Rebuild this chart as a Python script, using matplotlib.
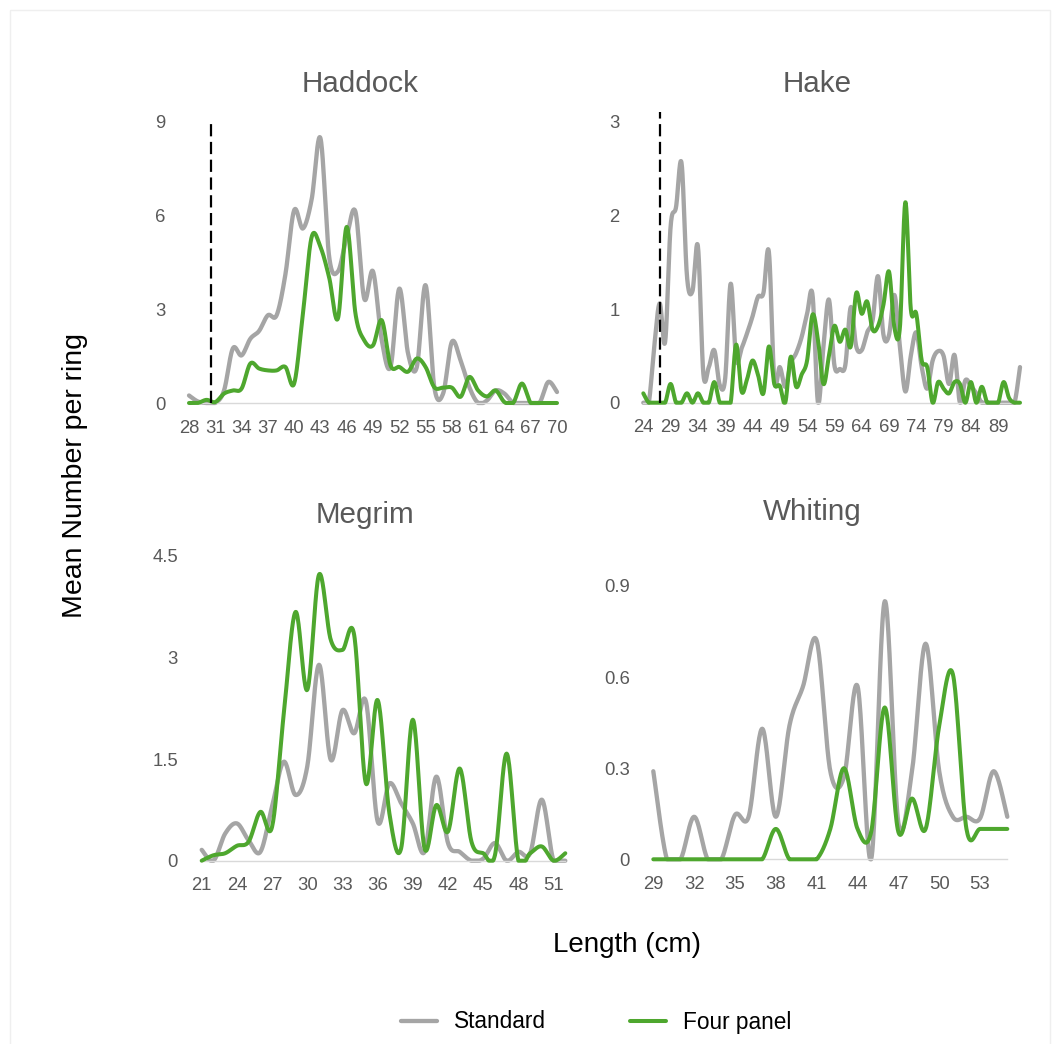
import numpy as np
import matplotlib
matplotlib.use("Agg")
import matplotlib.pyplot as plt
from matplotlib.patches import Rectangle
from matplotlib.ticker import FuncFormatter

plt.rcParams['font.family'] = ['Liberation Sans', 'DejaVu Sans']

# ---- data (mean number per ring by length class, cm) ----
haddock_len = list(range(28, 71))
haddock_std = [0.24, 0.05, 0, 0, 0.4, 1.74, 1.52, 2.05, 2.3, 2.8,
               2.8, 4.1, 6.15, 5.57, 6.5, 8.45, 4.66, 4.2, 5.3, 6.1,
               3.33, 4.2, 2.0, 1.15, 3.65, 1.58, 1.15, 3.76, 0.5, 0.3,
               1.95, 1.36, 0.5, 0, 0.08, 0.4, 0.3, 0, 0, 0,
               0, 0.67, 0.35]
haddock_four = [0, 0, 0.1, 0.03, 0.3, 0.4, 0.46, 1.26, 1.1, 1.04,
                1.04, 1.15, 0.62, 2.85, 5.3, 4.98, 4.0, 2.7, 5.62, 2.85,
                2.0, 1.84, 2.64, 1.2, 1.15, 1.0, 1.42, 1.15, 0.5, 0.49,
                0.49, 0.2, 0.83, 0.4, 0.21, 0.4, 0.03, 0, 0.62, 0,
                0, 0, 0]

hake_len = list(range(24, 94))
hake_std = [0, 0, 0.6, 1.06, 0.65, 1.88, 2.09, 2.56, 1.35, 1.19,
            1.67, 0.31, 0.38, 0.56, 0.19, 0.26, 1.27, 0.46, 0.58, 0.74,
            0.92, 1.13, 1.17, 1.61, 0.24, 0.38, 0.17, 0.42, 0.53, 0.7,
            0.95, 1.15, 0, 0.6, 1.1, 0.4, 0.36, 0.4, 1.02, 0.6,
            0.56, 0.75, 0.88, 1.35, 0.72, 0.72, 1.15, 0.6, 0.12, 0.5,
            0.75, 0.38, 0.15, 0.45, 0.55, 0.5, 0.2, 0.51, 0, 0.24,
            0.18, 0.1, 0, 0, 0, 0, 0, 0, 0, 0.38]
hake_four = [0.1, 0, 0, 0, 0, 0.2, 0, 0, 0.1, 0,
             0.1, 0, 0, 0.22, 0, 0, 0, 0.62, 0.12, 0.25,
             0.45, 0.3, 0.1, 0.6, 0.2, 0.18, 0, 0.49, 0.17, 0.3,
             0.45, 0.94, 0.67, 0.2, 0.5, 0.82, 0.65, 0.78, 0.6, 1.17,
             0.95, 1.08, 0.78, 0.82, 1.05, 1.4, 0.8, 0.8, 2.14, 1.0,
             0.95, 0.45, 0.38, 0, 0.22, 0.15, 0.1, 0.22, 0.2, 0,
             0.22, 0, 0.17, 0, 0, 0, 0.22, 0.05, 0, 0]

megrim_len = list(range(21, 53))
megrim_std = [0.16, 0, 0.4, 0.55, 0.3, 0.13, 0.8, 1.46, 0.97, 1.39,
              2.89, 1.49, 2.22, 1.88, 2.35, 0.58, 1.14, 0.85, 0.55, 0.13,
              1.24, 0.26, 0.13, 0, 0.03, 0.26, 0, 0.13, 0.11, 0.9,
              0, 0]
megrim_four = [0, 0.08, 0.11, 0.22, 0.28, 0.72, 0.5, 2.17, 3.67, 2.52,
               4.22, 3.26, 3.11, 3.33, 1.14, 2.37, 0.7, 0.18, 2.08, 0.18,
               0.82, 0.43, 1.36, 0.28, 0.11, 0.08, 1.58, 0, 0.11, 0.21,
               0, 0.11]

whiting_len = list(range(29, 56))
whiting_std = [0.29, 0, 0, 0.14, 0, 0, 0.146, 0.14, 0.43, 0.14,
               0.44, 0.57, 0.72, 0.29, 0.27, 0.57, 0, 0.85, 0.12, 0.29,
               0.71, 0.29, 0.14, 0.14, 0.135, 0.29, 0.14]
whiting_four = [0, 0, 0, 0, 0, 0, 0, 0, 0, 0.1,
                0, 0, 0, 0.1, 0.3, 0.1, 0.09, 0.5, 0.09, 0.2,
                0.1, 0.44, 0.61, 0.1, 0.1, 0.1, 0.1]

W, H = 1060, 1044
GREY = '#A5A5A5'
GREEN = '#4EA72E'
TXT = '#595959'


def smooth(x, y, n=24):
    # Excel-style smoothed line: cubic Bezier through every point
    x = np.asarray(x, float)
    y = np.asarray(y, float)
    px = np.concatenate([[x[0]], x, [x[-1]]])
    py = np.concatenate([[y[0]], y, [y[-1]]])
    t = np.linspace(0, 1, n)[:, None]
    xs, ys = [], []
    for i in range(len(x) - 1):
        p0 = np.array([px[i], py[i]])
        p1 = np.array([px[i + 1], py[i + 1]])
        p2 = np.array([px[i + 2], py[i + 2]])
        p3 = np.array([px[i + 3], py[i + 3]])
        c1 = p1 + (p2 - p0) / 6
        c2 = p2 - (p3 - p1) / 6
        b = ((1 - t) ** 3) * p1 + 3 * ((1 - t) ** 2) * t * c1 \
            + 3 * (1 - t) * t ** 2 * c2 + t ** 3 * p2
        xs.append(b[:, 0])
        ys.append(b[:, 1])
    return np.concatenate(xs), np.clip(np.concatenate(ys), 0, None)


fig = plt.figure(figsize=(W / 100, H / 100), dpi=100)

# faint outer frame
fig.add_artist(Rectangle((10 / W, -0.01), 1040 / W, 1 - 10 / H + 0.01,
                         transform=fig.transFigure, fill=False,
                         ec='#efefef', lw=1))

panels = [
    # name, lengths, std, four, ymax, ystep, xstep, mls, box(x0,x1,ytop,ybot), title xy, mls top
    ('Haddock', haddock_len, haddock_std, haddock_four, 9, 3, 3, 30.5,
     (189, 557, 121, 403), (360, 84), 9.0),
    ('Hake', hake_len, hake_std, hake_four, 3, 1, 5, 27,
     (643.3, 1020, 121.7, 402.7), (817, 84), 3.1),
    ('Megrim', megrim_len, megrim_std, megrim_four, 4.5, 1.5, 3, None,
     (201.7, 565.3, 555.7, 860.7), (365, 515), None),
    ('Whiting', whiting_len, whiting_std, whiting_four, 0.9, 0.3, 3, None,
     (653.3, 1007.3, 586, 859.3), (812, 512), None),
]

handles = None
for name, ln, std, four, ymax, ystep, xstep, mls, box, txy, mtop in panels:
    x0, x1, yt, yb = box
    ax = fig.add_axes([x0 / W, 1 - yb / H, (x1 - x0) / W, (yb - yt) / H])
    ax.set_xlim(ln[0], ln[-1])
    ax.set_ylim(0, ymax)

    sx, sy = smooth(ln, std)
    h1, = ax.plot(sx, sy, color=GREY, lw=3.1, solid_capstyle='round',
                  solid_joinstyle='round', clip_on=False, zorder=2,
                  label='Standard')
    fx, fy = smooth(ln, four)
    h2, = ax.plot(fx, fy, color=GREEN, lw=2.9, solid_capstyle='round',
                  solid_joinstyle='round', clip_on=False, zorder=3,
                  label='Four panel')
    if handles is None:
        handles = [h1, h2]

    if mls is not None:
        ax.plot([mls, mls], [0, mtop], color='black', lw=1.6,
                dashes=(5.5, 2.5), clip_on=False, zorder=4)

    ax.set_xticks(ln[::xstep])
    ax.set_yticks(np.arange(0, ymax + ystep / 2, ystep))
    ax.yaxis.set_major_formatter(FuncFormatter(lambda v, p: '%g' % round(v, 2)))
    ax.tick_params(length=0, labelsize=13.3, colors=TXT)
    ax.tick_params(axis='y', pad=17)
    ax.tick_params(axis='x', pad=12)
    for s in ('left', 'top', 'right'):
        ax.spines[s].set_visible(False)
    ax.spines['bottom'].set_color('#D9D9D9')
    ax.spines['bottom'].set_linewidth(1)
    ax.patch.set_alpha(0)

    fig.text(txy[0] / W, 1 - txy[1] / H, name, ha='center', va='center',
             fontsize=21.3, color=TXT)

fig.text(75 / W, 1 - 475 / H, 'Mean Number per ring', rotation=90,
         ha='center', va='center', fontsize=20.5, color='black')
fig.text(627 / W, 1 - 945 / H, 'Length (cm)', ha='center', va='center',
         fontsize=20, color='black')

fig.legend(handles=handles, loc='center', bbox_to_anchor=(596 / W, 1 - 1022 / H),
           ncol=2, frameon=False, fontsize=16.3, handlelength=1.6,
           handletextpad=0.75, columnspacing=3.7, borderpad=0)

fig.savefig('out.png', dpi=100, facecolor='white')
